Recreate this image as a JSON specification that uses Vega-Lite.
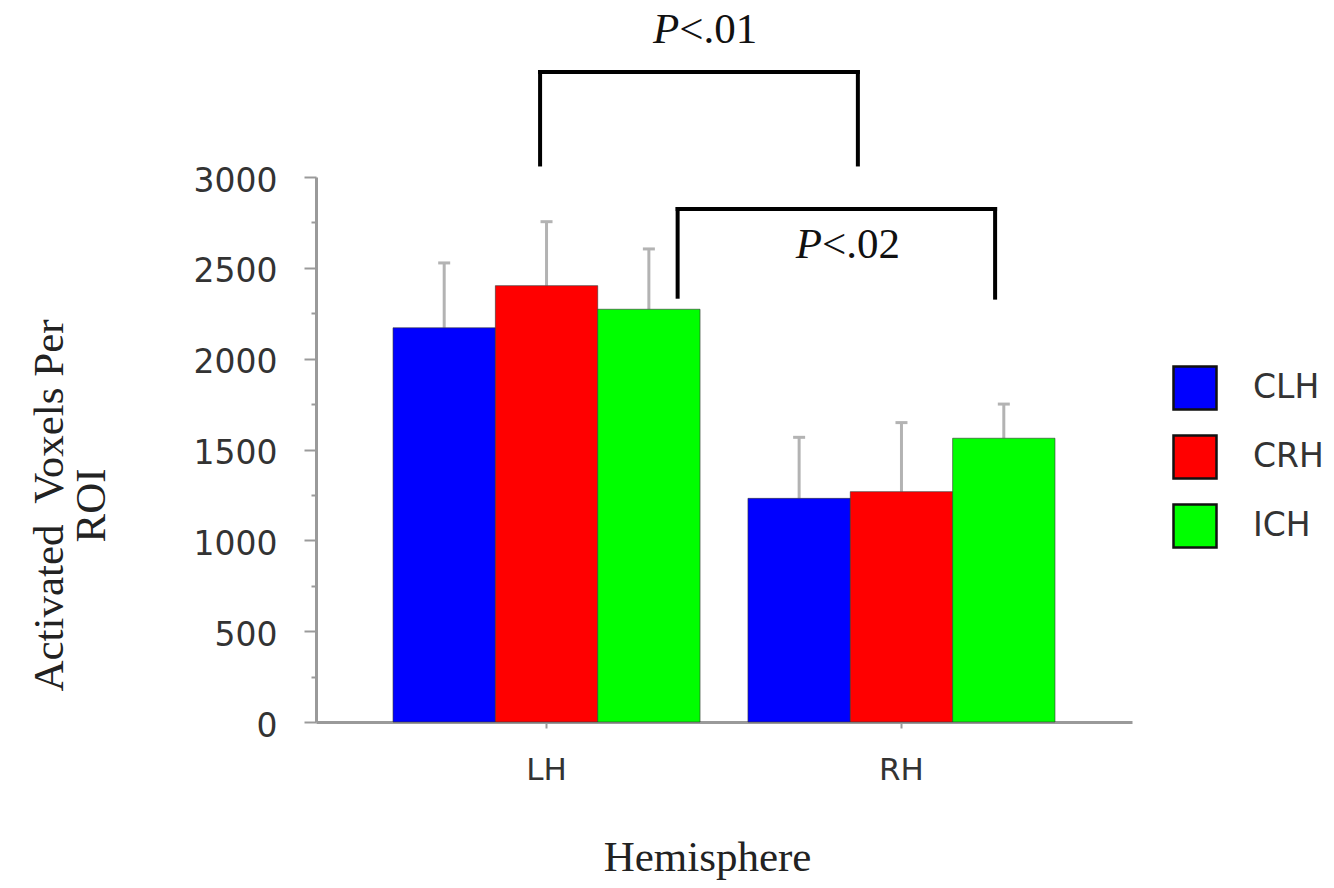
{
  "$schema": "https://vega.github.io/schema/vega-lite/v6.json",
  "width": 816,
  "height": 545,
  "autosize": {"type": "none"},
  "padding": {"left": 316, "top": 177, "right": 202, "bottom": 166},
  "background": "white",
  "config": {
    "view": {"stroke": null},
    "font": "DejaVu Sans",
    "axis": {"grid": false, "domainColor": "#9a9a9a", "domainWidth": 3, "tickColor": "#9a9a9a", "tickWidth": 2, "labelFont": "DejaVu Sans", "labelColor": "#333333", "titleFont": "Liberation Serif", "titleFontSize": 43, "titleFontWeight": "normal", "titleColor": "#222222"},
    "legend": {"symbolType": "square", "symbolSize": 1849, "symbolStrokeColor": "#111111", "symbolStrokeWidth": 2.5, "labelFont": "DejaVu Sans", "labelFontSize": 33, "labelColor": "#333333", "labelOffset": 35, "rowPadding": 15, "padding": 0, "offset": 0}
  },
  "datasets": {
    "bars": [
      {"Hemisphere": "LH", "Condition": "CLH", "Mean": 2170, "Upper": 2527},
      {"Hemisphere": "LH", "Condition": "CRH", "Mean": 2402, "Upper": 2754},
      {"Hemisphere": "LH", "Condition": "ICH", "Mean": 2272, "Upper": 2604},
      {"Hemisphere": "RH", "Condition": "CLH", "Mean": 1231, "Upper": 1567},
      {"Hemisphere": "RH", "Condition": "CRH", "Mean": 1268, "Upper": 1648},
      {"Hemisphere": "RH", "Condition": "ICH", "Mean": 1562, "Upper": 1750}
    ],
    "brackets": [
      {"Bracket": 1, "Symbol": "P", "Stat": "<.01", "Left": "LH", "Right": "RH", "Top": 3578, "LeftEnd": 3069, "RightEnd": 3069, "TextY": 3738},
      {"Bracket": 2, "Symbol": "P", "Stat": "<.02", "Left": "LH", "Right": "RH", "Top": 2824, "LeftEnd": 2341, "RightEnd": 2336, "TextY": 2554}
    ]
  },
  "layer": [
    {
      "data": {"name": "bars"},
      "mark": {"type": "rule", "color": "#b3b3b3", "strokeWidth": 3},
      "encoding": {
        "x": {"field": "Hemisphere", "type": "nominal", "title": "Hemisphere"},
        "xOffset": {"field": "Condition", "type": "nominal"},
        "y": {"field": "Mean", "type": "quantitative"},
        "y2": {"field": "Upper"}
      }
    },
    {
      "data": {"name": "bars"},
      "mark": {"type": "tick", "orient": "horizontal", "color": "#b3b3b3", "size": 12, "thickness": 3, "opacity": 1},
      "encoding": {
        "x": {"field": "Hemisphere", "type": "nominal", "title": "Hemisphere"},
        "xOffset": {"field": "Condition", "type": "nominal"},
        "y": {"field": "Upper", "type": "quantitative"}
      }
    },
    {
      "data": {"name": "bars"},
      "mark": {"type": "bar", "stroke": "#333333", "strokeWidth": 1, "strokeOpacity": 0.6},
      "encoding": {
        "x": {
          "field": "Hemisphere", "type": "nominal", "title": "Hemisphere",
          "scale": {"domain": ["LH", "RH"], "paddingInner": 0.135, "paddingOuter": 0.217},
          "axis": {"labelAngle": 0, "labelAlign": "center", "bandPosition": 0.5, "labelFontSize": 31, "tickSize": 6, "labelPadding": 42, "titleX": 391, "titleY": 148, "titleBaseline": "alphabetic", "titleAlign": "center"}
        },
        "xOffset": {"field": "Condition", "type": "nominal", "scale": {"domain": ["CLH", "CRH", "ICH"], "paddingInner": 0, "paddingOuter": 0}},
        "y": {
          "field": "Mean", "type": "quantitative",
          "scale": {"domain": [0, 3000], "nice": false, "zero": true},
          "axis": {
            "title": ["Activated\u00a0 Voxels Per", "ROI"],
            "values": [0, 250, 500, 750, 1000, 1250, 1500, 1750, 2000, 2250, 2500, 2750, 3000],
            "format": "d",
            "labelExpr": "datum.value % 500 === 0 ? datum.label : ''",
            "tickSize": {"condition": {"test": "datum.value % 500 === 0", "value": 12}, "value": 5},
            "labelFontSize": 33,
            "labelPadding": 27,
            "labelOffset": 4,
            "titleX": -267,
            "titleY": 328,
            "titleAlign": "center",
            "titleBaseline": "middle",
            "titleLineHeight": 42,
            "titleAngle": -90
          }
        },
        "color": {
          "field": "Condition", "type": "nominal",
          "scale": {"domain": ["CLH", "CRH", "ICH"], "range": ["#0000ff", "#ff0000", "#00ff00"]},
          "legend": {"title": null, "orient": "none", "legendX": 856, "legendY": 188}
        }
      }
    },
    {
      "data": {"name": "brackets"},
      "transform": [{"filter": "datum.Bracket === 1"}],
      "mark": {"type": "rule", "color": "#000000", "strokeWidth": 4, "strokeCap": "square"},
      "encoding": {
        "x": {"field": "Left", "type": "nominal", "bandPosition": 0.479, "title": "Hemisphere"},
        "y": {"field": "LeftEnd", "type": "quantitative"},
        "y2": {"field": "Top"}
      }
    },
    {
      "data": {"name": "brackets"},
      "transform": [{"filter": "datum.Bracket === 1"}],
      "mark": {"type": "rule", "color": "#000000", "strokeWidth": 4, "strokeCap": "square"},
      "encoding": {
        "x": {"field": "Right", "type": "nominal", "bandPosition": 0.358, "title": "Hemisphere"},
        "y": {"field": "RightEnd", "type": "quantitative"},
        "y2": {"field": "Top"}
      }
    },
    {
      "data": {"name": "brackets"},
      "transform": [{"filter": "datum.Bracket === 1"}],
      "mark": {"type": "rule", "color": "#000000", "strokeWidth": 4, "strokeCap": "square"},
      "encoding": {
        "x": {"field": "Left", "type": "nominal", "bandPosition": 0.479, "title": "Hemisphere"},
        "x2": {"field": "Right", "bandPosition": 0.358},
        "y": {"field": "Top", "type": "quantitative"}
      }
    },
    {
      "data": {"name": "brackets"},
      "transform": [{"filter": "datum.Bracket === 2"}],
      "mark": {"type": "rule", "color": "#000000", "strokeWidth": 4, "strokeCap": "square"},
      "encoding": {
        "x": {"field": "Left", "type": "nominal", "bandPosition": 0.927, "title": "Hemisphere"},
        "y": {"field": "LeftEnd", "type": "quantitative"},
        "y2": {"field": "Top"}
      }
    },
    {
      "data": {"name": "brackets"},
      "transform": [{"filter": "datum.Bracket === 2"}],
      "mark": {"type": "rule", "color": "#000000", "strokeWidth": 4, "strokeCap": "square"},
      "encoding": {
        "x": {"field": "Right", "type": "nominal", "bandPosition": 0.805, "title": "Hemisphere"},
        "y": {"field": "RightEnd", "type": "quantitative"},
        "y2": {"field": "Top"}
      }
    },
    {
      "data": {"name": "brackets"},
      "transform": [{"filter": "datum.Bracket === 2"}],
      "mark": {"type": "rule", "color": "#000000", "strokeWidth": 4, "strokeCap": "square"},
      "encoding": {
        "x": {"field": "Left", "type": "nominal", "bandPosition": 0.927, "title": "Hemisphere"},
        "x2": {"field": "Right", "bandPosition": 0.805},
        "y": {"field": "Top", "type": "quantitative"}
      }
    },
    {
      "data": {"name": "brackets"},
      "transform": [{"filter": "datum.Bracket === 1"}],
      "mark": {"type": "text", "font": "Liberation Serif", "fontSize": 43, "fontStyle": "italic", "align": "right", "baseline": "alphabetic", "color": "#111111"},
      "encoding": {
        "x": {"field": "Left", "type": "nominal", "bandPosition": 0.932, "title": "Hemisphere"},
        "y": {"field": "TextY", "type": "quantitative"},
        "text": {"field": "Symbol"}
      }
    },
    {
      "data": {"name": "brackets"},
      "transform": [{"filter": "datum.Bracket === 1"}],
      "mark": {"type": "text", "font": "Liberation Serif", "fontSize": 43, "align": "left", "baseline": "alphabetic", "color": "#111111"},
      "encoding": {
        "x": {"field": "Left", "type": "nominal", "bandPosition": 0.932, "title": "Hemisphere"},
        "y": {"field": "TextY", "type": "quantitative"},
        "text": {"field": "Stat"}
      }
    },
    {
      "data": {"name": "brackets"},
      "transform": [{"filter": "datum.Bracket === 2"}],
      "mark": {"type": "text", "font": "Liberation Serif", "fontSize": 43, "fontStyle": "italic", "align": "right", "baseline": "alphabetic", "color": "#111111"},
      "encoding": {
        "x": {"field": "Right", "type": "nominal", "bandPosition": 0.241, "title": "Hemisphere"},
        "y": {"field": "TextY", "type": "quantitative"},
        "text": {"field": "Symbol"}
      }
    },
    {
      "data": {"name": "brackets"},
      "transform": [{"filter": "datum.Bracket === 2"}],
      "mark": {"type": "text", "font": "Liberation Serif", "fontSize": 43, "align": "left", "baseline": "alphabetic", "color": "#111111"},
      "encoding": {
        "x": {"field": "Right", "type": "nominal", "bandPosition": 0.241, "title": "Hemisphere"},
        "y": {"field": "TextY", "type": "quantitative"},
        "text": {"field": "Stat"}
      }
    }
  ]
}
